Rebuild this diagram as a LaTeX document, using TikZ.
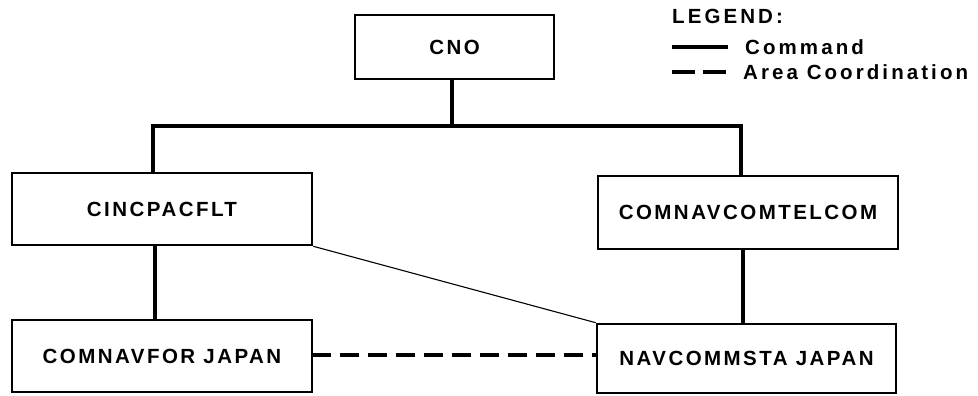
\documentclass[tikz,border=0pt]{standalone}
\usepackage{fontspec}
\newfontfamily\labfont[LetterSpace=12]{Liberation Sans}
\newfontfamily\legfont[LetterSpace=15]{Liberation Sans}
\begin{document}
\begin{tikzpicture}[x=1pt,y=-1pt,
  orgbox/.style={draw=black, line width=2.6pt, rectangle, inner sep=0pt, font=\labfont\bfseries\fontsize{20.5}{22}\selectfont},
  cmd/.style={line width=3.8pt},
  coord/.style={line width=4pt, dash pattern=on 19pt off 9pt},
  thinlink/.style={line width=1.1pt},
  legtext/.style={anchor=west, inner sep=0pt, font=\legfont\bfseries\fontsize{20.5}{22}\selectfont}]
\useasboundingbox (0,0) rectangle (978,396);
\node[orgbox, minimum width=199pt, minimum height=64pt] (cno) at (454.5,47) {CNO};
\node[orgbox, minimum width=300pt, minimum height=72pt] (cinc) at (162,209) {CINCPACFLT};
\node[orgbox, minimum width=300pt, minimum height=73pt] (telcom) at (748,212.5) {COMNAVCOMTELCOM};
\node[orgbox, minimum width=300pt, minimum height=72pt] (navfor) at (162,356) {COMNAVFOR JAPAN};
\node[orgbox, minimum width=299pt, minimum height=69pt] (nav) at (746.5,358.5) {NAVCOMMSTA JAPAN};
\coordinate (bus) at (452,126);
\draw[cmd] (cno.south -| bus) -- (bus);
\draw[cmd] (cinc.north -| 153,0) |- (bus) -| (telcom.north -| 741,0);
\draw[cmd] (cinc.south -| 155,0) -- (navfor.north -| 155,0);
\draw[cmd] (telcom.south -| 743,0) -- (nav.north -| 743,0);
\draw[thinlink] (cinc.south east) -- (nav.north west);
\coordinate (dl) at (312,354.5);
\draw[coord] (dl) -- (dl -| nav.west);
% legend
\node[legtext] (legh) at (672,16) {LEGEND:};
\node[legtext] (legc) at (745,47) {Command};
\node[legtext] (lega) at (743,72) {Area Coordination};
\coordinate (c1) at (672,47);
\coordinate (a1) at (672,72);
\draw[line width=3.2pt] (c1) -- (legc.west -| 728,0);
\draw[line width=3.2pt, dash pattern=on 23pt off 8pt] (a1) -- (lega.west -| 728,0);
\end{tikzpicture}
\end{document}
